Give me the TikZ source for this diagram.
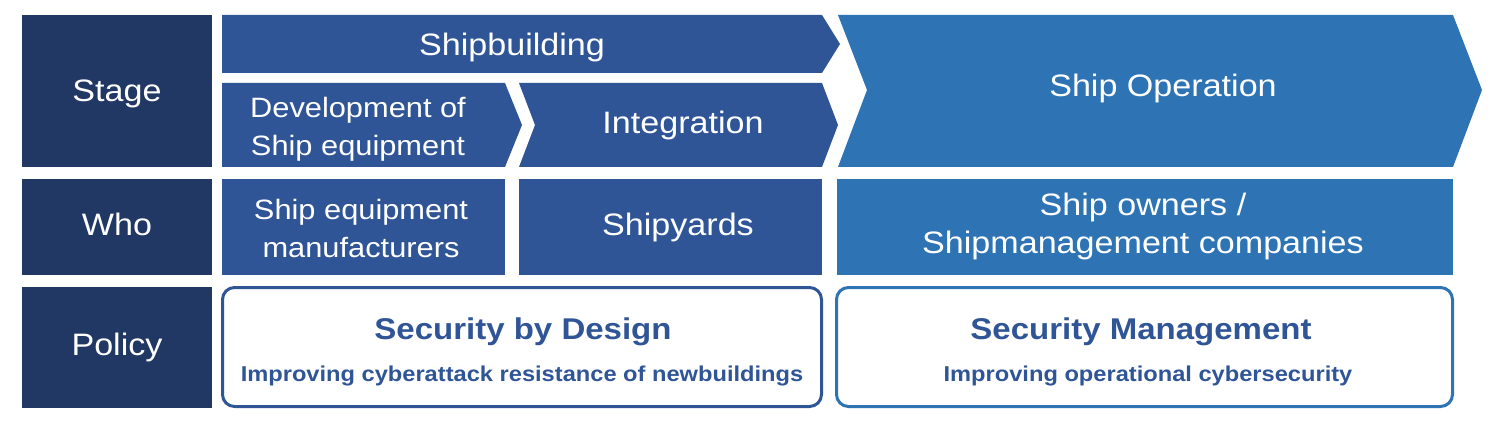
\documentclass[tikz,border=0pt]{standalone}
\usepackage{fontspec}
\setmainfont[FakeStretch=1.1]{Liberation Sans}
\definecolor{navy}{HTML}{213864}
\definecolor{midblue}{HTML}{2F5597}
\definecolor{opblue}{HTML}{2E73B4}

\begin{document}
\begin{tikzpicture}[x=1pt,y=-1pt,
    big/.style={text=white,font=\fontsize{31}{38}\selectfont,align=center,inner sep=0pt},
    small/.style={text=white,font=\fontsize{28}{38}\selectfont,align=center,inner sep=0pt},
    policy/.style={line width=3pt,rounded corners=12pt,fill=white},
    title/.style={text=midblue,font=\bfseries\fontsize{30}{36}\selectfont,inner sep=0pt},
    sub/.style={text=midblue,font=\bfseries\fontsize{21.5}{26}\selectfont,inner sep=0pt}]
    \useasboundingbox (0,0) rectangle (1500,425);
    % left labels
    \fill[navy] (22,15) rectangle (212,167);
    \fill[navy] (22,179) rectangle (212,275);
    \fill[navy] (22,287) rectangle (212,408);
    \node[big] (stage) at (117,94) {Stage};
    \node[big] (who) at (117,224) {Who};
    \node[big] (policy) at (117,347) {Policy};
    % stage row
    \fill[midblue] (222,15)--(822,15)--(840,44)--(822,73)--(222,73)--cycle;
    \fill[midblue] (222,83)--(505,83)--(522,125)--(505,167)--(222,167)--cycle;
    \fill[midblue] (519,83)--(822,83)--(838,125)--(822,167)--(519,167)--(535,125)--cycle;
    \fill[opblue] (838,15)--(1453,15)--(1482,90)--(1453,167)--(838,167)--(867,90)--cycle;
    \node[big] (build) at (512,47) {Shipbuilding};
    \node[small] (develop) at (358,129) {Development of\\Ship equipment};
    \node[big] (integ) at (683,125) {Integration};
    \node[big] (operate) at (1163,88) {Ship Operation};
    % who row
    \fill[midblue] (222,179) rectangle (505,275);
    \fill[midblue] (519,179) rectangle (822,275);
    \fill[opblue] (837,179) rectangle (1453,275);
    \node[small] (makers) at (361,228) {Ship equipment\\manufacturers};
    \node[big] (yards) at (678,227) {Shipyards};
    \node[big] (owners) at (1143,226) {Ship owners /\\Shipmanagement companies};
    % policy row
    \draw[policy,draw=midblue] (222.5,287.5) rectangle (821.5,406.5);
    \draw[policy,draw=opblue] (836.5,287.5) rectangle (1452.5,406.5);
    \node[title] (sbd) at (523,332) {Security by Design};
    \node[sub] (sbdtext) at (522,376) {Improving cyberattack resistance of newbuildings};
    \node[title] (smgmt) at (1141,332) {Security Management};
    \node[sub] (smgmttext) at (1148,376) {Improving operational cybersecurity};
\end{tikzpicture}
\end{document}
